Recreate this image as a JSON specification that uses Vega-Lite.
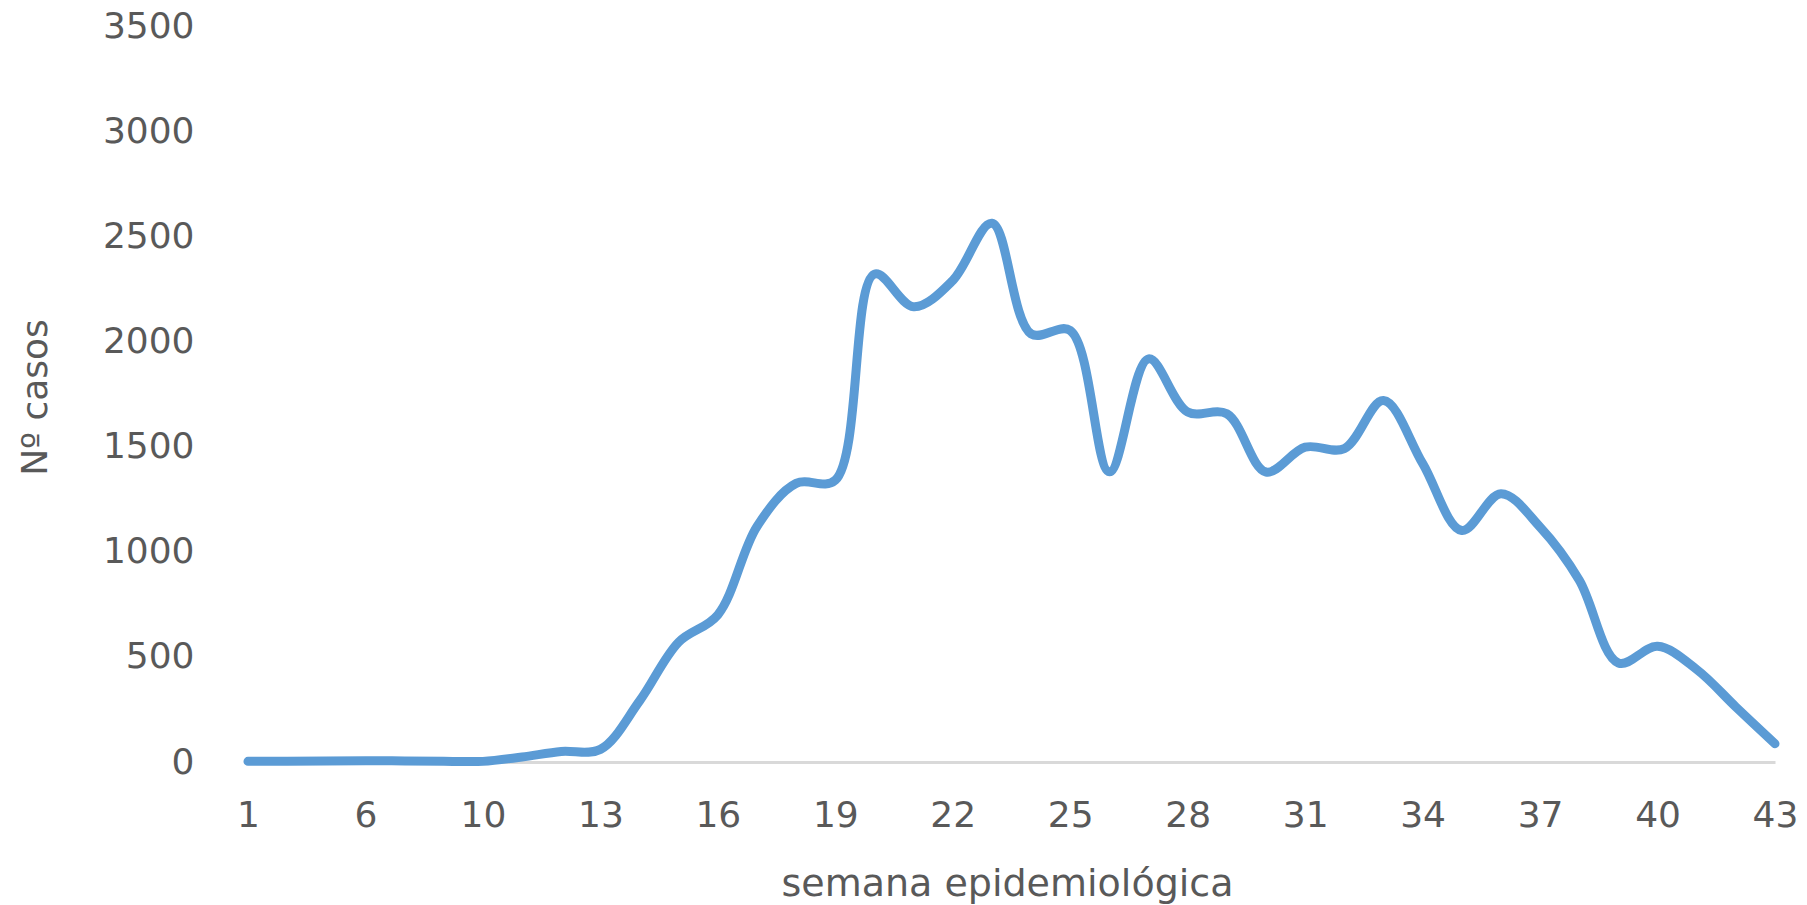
{
  "$schema": "https://vega.github.io/schema/vega-lite/v6.json",
  "width": 1527,
  "height": 736,
  "autosize": {"type": "none"},
  "padding": {"left": 248, "top": 26, "right": 32, "bottom": 143},
  "background": "white",
  "config": {
    "view": {"stroke": null},
    "font": "DejaVu Sans"
  },
  "data": {
    "values": [
      {"semana": "1", "casos": 3},
      {"semana": "2", "casos": 4},
      {"semana": "4", "casos": 5},
      {"semana": "6", "casos": 6},
      {"semana": "7", "casos": 5},
      {"semana": "8", "casos": 4},
      {"semana": "10", "casos": 3},
      {"semana": "11", "casos": 24},
      {"semana": "12", "casos": 50},
      {"semana": "13", "casos": 60},
      {"semana": "14", "casos": 290},
      {"semana": "15", "casos": 570},
      {"semana": "16", "casos": 700},
      {"semana": "17", "casos": 1120},
      {"semana": "18", "casos": 1325},
      {"semana": "19", "casos": 1340},
      {"semana": "20", "casos": 2320},
      {"semana": "21", "casos": 2165},
      {"semana": "22", "casos": 2290},
      {"semana": "23", "casos": 2562},
      {"semana": "24", "casos": 2036},
      {"semana": "25", "casos": 2052},
      {"semana": "26", "casos": 1380},
      {"semana": "27", "casos": 1917},
      {"semana": "28", "casos": 1664},
      {"semana": "29", "casos": 1656},
      {"semana": "30", "casos": 1379},
      {"semana": "31", "casos": 1497},
      {"semana": "32", "casos": 1490},
      {"semana": "33", "casos": 1719},
      {"semana": "34", "casos": 1420},
      {"semana": "35", "casos": 1101},
      {"semana": "36", "casos": 1276},
      {"semana": "37", "casos": 1117},
      {"semana": "38", "casos": 865},
      {"semana": "39", "casos": 471},
      {"semana": "40", "casos": 550},
      {"semana": "41", "casos": 440},
      {"semana": "42", "casos": 262},
      {"semana": "43", "casos": 87}
    ]
  },
  "mark": {
    "type": "line",
    "interpolate": "catmull-rom",
    "color": "#5B9BD5",
    "strokeWidth": 9,
    "strokeCap": "round",
    "strokeJoin": "round"
  },
  "encoding": {
    "x": {
      "field": "semana",
      "type": "ordinal",
      "sort": null,
      "scale": {"type": "point", "padding": 0},
      "axis": {
        "values": ["1", "6", "10", "13", "16", "19", "22", "25", "28", "31", "34", "37", "40", "43"],
        "labelAngle": 0,
        "labelFont": "DejaVu Sans",
        "labelFontSize": 36,
        "labelColor": "#595959",
        "labelBaseline": "middle",
        "labelPadding": 53,
        "ticks": false,
        "tickSize": 0,
        "domainColor": "#D9D9D9",
        "domainWidth": 3,
        "grid": false,
        "title": "semana epidemiológica",
        "titleFont": "DejaVu Sans",
        "titleFontSize": 38,
        "titleFontWeight": "normal",
        "titleColor": "#595959",
        "titleBaseline": "middle",
        "titleAnchor": "start",
        "titleAlign": "center",
        "titleX": 759,
        "titleY": 122
      }
    },
    "y": {
      "field": "casos",
      "type": "quantitative",
      "scale": {"domain": [0, 3500], "nice": false, "zero": true},
      "axis": {
        "values": [0, 500, 1000, 1500, 2000, 2500, 3000, 3500],
        "format": "d",
        "labelFont": "DejaVu Sans",
        "labelFontSize": 36,
        "labelColor": "#595959",
        "labelPadding": 54,
        "ticks": false,
        "tickSize": 0,
        "domain": false,
        "grid": false,
        "title": "Nº casos",
        "titleFont": "DejaVu Sans",
        "titleFontSize": 36,
        "titleFontWeight": "normal",
        "titleColor": "#595959",
        "titleAngle": -90,
        "titleBaseline": "middle",
        "titleAlign": "center",
        "titleAnchor": "start",
        "titleX": -213,
        "titleY": 371
      }
    }
  }
}
